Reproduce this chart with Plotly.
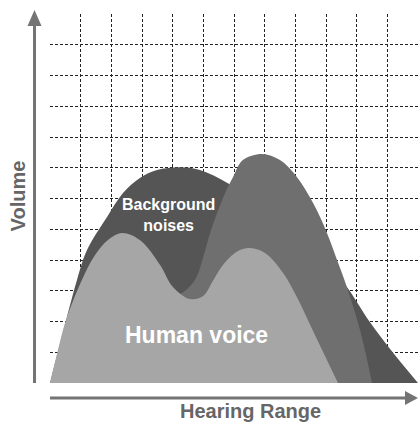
import plotly.graph_objects as go

# Grid units: 12 x 12 cells
noise_x = [0, 0.36, 0.88, 1.21, 1.86, 2.38, 2.93, 3.49, 4.24, 4.89, 5.80, 6.85, 8.15, 9.13, 9.68, 10.43, 11.22, 12.0]
noise_y = [0, 1.40, 3.35, 4.33, 5.40, 6.18, 6.67, 6.93, 7.02, 6.93, 6.50, 5.79, 4.65, 3.74, 3.12, 1.98, 0.94, 0]

mid_x = [0, 1.96, 3.26, 3.98, 4.40, 4.76, 4.99, 5.22, 5.45, 5.71, 5.97, 6.29, 6.91, 7.50, 8.05, 8.58, 9.03, 9.36, 9.68, 10.11, 10.50]
mid_y = [0, 1.24, 2.11, 2.76, 2.99, 3.41, 4.07, 4.88, 5.53, 6.18, 6.70, 7.25, 7.45, 7.25, 6.70, 5.85, 4.88, 4.00, 3.12, 1.72, 0]

voice_x = [0, 0.26, 0.52, 1.04, 1.47, 1.89, 2.35, 2.93, 3.59, 4.01, 4.56, 4.99, 5.31, 5.61, 6.03, 6.46, 7.01, 7.60, 8.05, 8.64, 9.39]
voice_y = [0, 1.07, 2.05, 3.35, 4.16, 4.65, 4.88, 4.65, 3.84, 3.12, 2.73, 2.83, 3.32, 3.80, 4.23, 4.39, 4.23, 3.58, 2.80, 1.56, 0]

x_grid = list(range(0, 12))
y_grid = list(range(0, 13))

labels = {"noise": "Background<br>noises", "voice": "Human voice",
          "xaxis": "Hearing Range", "yaxis": "Volume"}

fig = go.Figure()
for xs, ys, col in [(noise_x, noise_y, "#555555"),
                    (mid_x, mid_y, "#6f6f6f"),
                    (voice_x, voice_y, "#a6a6a6")]:
    fig.add_trace(go.Scatter(x=xs, y=ys, mode="lines", fill="tozeroy",
                             fillcolor=col, line=dict(color=col, width=0, shape="spline", smoothing=1),
                             hoverinfo="skip", showlegend=False))

axis_common = dict(range=[0, 12], tickmode="array", showgrid=True, gridcolor="#222222",
                   griddash="3px,2px", gridwidth=1, zeroline=False, showline=False,
                   showticklabels=False, ticks="", automargin=False)
fig.update_xaxes(tickvals=x_grid, **axis_common)
fig.update_yaxes(tickvals=y_grid, **axis_common)

arrow_col = "#747474"
shapes = [
    dict(type="line", xref="paper", yref="paper", x0=-0.0421, x1=-0.0421, y0=0, y1=0.975,
         line=dict(color=arrow_col, width=3)),
    dict(type="path", xref="paper", yref="paper",
         path="M -0.0421 1.0108 L -0.0611 0.9675 L -0.0231 0.9675 Z",
         fillcolor=arrow_col, line=dict(width=0)),
    dict(type="line", xref="paper", yref="paper", x0=0, x1=0.975, y0=-0.0407, y1=-0.0407,
         line=dict(color=arrow_col, width=3)),
    dict(type="path", xref="paper", yref="paper",
         path="M 1.0 -0.0407 L 0.9647 -0.0217 L 0.9647 -0.0596 Z",
         fillcolor=arrow_col, line=dict(width=0)),
]

font_fam = "Liberation Sans, Arial, sans-serif"
annotations = [
    dict(x=3.88, y=5.46, xref="x", yref="y", text="<b>" + labels["noise"] + "</b>",
         showarrow=False, xanchor="center", yanchor="middle",
         font=dict(family=font_fam, size=16, color="white")),
    dict(x=4.78, y=1.55, xref="x", yref="y", text="<b>" + labels["voice"] + "</b>",
         showarrow=False, xanchor="center", yanchor="middle",
         font=dict(family=font_fam, size=23, color="white")),
    dict(x=0.5435, y=-0.075, xref="paper", yref="paper", text="<b>" + labels["xaxis"] + "</b>",
         showarrow=False, xanchor="center", yanchor="middle",
         font=dict(family=font_fam, size=20, color="#666666")),
    dict(x=-0.0883, y=0.507, xref="paper", yref="paper", text="<b>" + labels["yaxis"] + "</b>",
         showarrow=False, textangle=-90, xanchor="center", yanchor="middle",
         font=dict(family=font_fam, size=20, color="#666666")),
]

fig.update_layout(width=418, height=423, margin=dict(l=50, r=0, t=14, b=40, pad=0, autoexpand=False),
                  plot_bgcolor="white", paper_bgcolor="white",
                  shapes=shapes, annotations=annotations, showlegend=False)

fig.write_html("out.html", config={"displayModeBar": False},
               post_script="document.body.style.margin='0';document.body.style.overflow='hidden';")
